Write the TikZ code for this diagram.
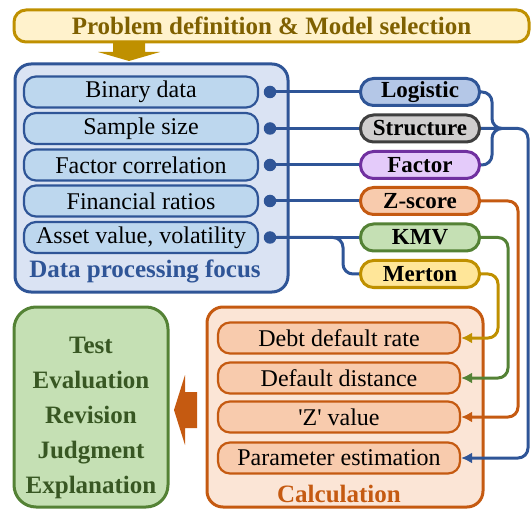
\documentclass[tikz,border=0pt]{standalone}
\usepackage{fontspec}
\setmainfont{Liberation Serif}
\usepackage{xcolor}
\usetikzlibrary{arrows.meta}
\definecolor{goldline}{HTML}{BF9000}
\definecolor{goldfill}{HTML}{FFF2CC}
\definecolor{goldtext}{HTML}{7F6000}
\definecolor{blueline}{HTML}{2F5597}
\definecolor{bluefill}{HTML}{DAE3F3}
\definecolor{bluein}{HTML}{BDD7EE}
\definecolor{logifill}{HTML}{B4C7E7}
\definecolor{grayline}{HTML}{3F3F3F}
\definecolor{grayfill}{HTML}{D0CECE}
\definecolor{purpline}{HTML}{7030A0}
\definecolor{purpfill}{HTML}{E4CBFA}
\definecolor{orline}{HTML}{C55A11}
\definecolor{orfill}{HTML}{F8CBAD}
\definecolor{orback}{HTML}{FBE5D6}
\definecolor{grline}{HTML}{548235}
\definecolor{grfill}{HTML}{C5E0B4}
\definecolor{grtext}{HTML}{385723}
\definecolor{merfill}{HTML}{FFE699}

\begin{document}
\begin{tikzpicture}[x=1pt, y=-1pt,
  bigbox/.style={draw, line width=3pt, rounded corners=16pt, inner sep=0pt},
  databox/.style={draw=blueline, fill=bluein, line width=2.2pt, rounded corners=12pt,
    minimum width=234pt, minimum height=31pt, inner sep=0pt, font=\fontsize{24}{26}\selectfont},
  calcbox/.style={draw=orline, fill=orfill, line width=2.2pt, rounded corners=12pt,
    minimum width=242pt, minimum height=31pt, inner sep=0pt, font=\fontsize{24}{26}\selectfont},
  model/.style={line width=3pt, rounded corners=13pt, minimum width=119pt,
    minimum height=27pt, inner sep=0pt, font=\bfseries\fontsize{23}{25}\selectfont},
  dot/.style={circle, fill=blueline, minimum size=12.5pt, inner sep=0pt},
  link/.style={line width=3pt, rounded corners=10pt},
  tip/.style={-{Latex[length=11pt,width=11pt]}},
  evaltext/.style={anchor=base, text=grtext, font=\bfseries\fontsize{25}{27}\selectfont}]
\useasboundingbox (0,0) rectangle (532,510);

% Boxes
\node[bigbox, draw=goldline, fill=goldfill, rounded corners=12pt, minimum width=515pt, minimum height=32pt,
  text=goldtext, font=\bfseries\fontsize{25}{27}\selectfont] (problem) at (271.5,26) {Problem definition \& Model selection};
\fill[goldline] (113,41) -- (145,41) -- (145,52) -- (160,52) -- (129,61) -- (98,52) -- (113,52) -- cycle;

\node[bigbox, draw=blueline, fill=bluefill, minimum width=273pt, minimum height=228pt] (focus) at (151.5,178) {};
\node[text=blueline, font=\bfseries\fontsize{25}{27}\selectfont] (focuslabel) at (145,271) {Data processing focus};

\node[bigbox, draw=grline, fill=grfill, rounded corners=22pt, minimum width=154pt, minimum height=200pt] (result) at (91,407) {};
\node[bigbox, draw=orline, fill=orback, minimum width=276pt, minimum height=200pt] (calc) at (345,407) {};
\node[text=orline, font=\bfseries\fontsize{25}{27}\selectfont] (calclabel) at (339,494) {Calculation};
\fill[orline] (197,392) -- (185,392) -- (185,375) -- (174,410) -- (185,445) -- (185,428) -- (197,428) -- cycle;

% Data
\node[databox] (binary) at (141,92) {Binary data};
\node[databox] (sample) at (141,128.5) {Sample size};
\node[databox] (corr) at (141,165) {Factor correlation};
\node[databox] (ratios) at (141,201) {Financial ratios};
\node[databox] (asset) at (141,237.5) {Asset value, volatility};

\node[dot] (d1) at (270,92) {};
\node[dot] (d2) at (270,128.5) {};
\node[dot] (d3) at (270,165) {};
\node[dot] (d4) at (270,201) {};
\node[dot] (d5) at (270,237.5) {};

% Models
\node[model, draw=blueline, fill=logifill] (logi) at (420,92) {Logistic};
\node[model, draw=grayline, fill=grayfill] (struc) at (420,128.5) {Structure};
\node[model, draw=purpline, fill=purpfill] (factor) at (420,165) {Factor};
\node[model, draw=orline, fill=orfill] (zscore) at (420,201) {Z-score};
\node[model, draw=grline, fill=grfill] (kmv) at (420,237.5) {KMV};
\node[model, draw=goldline, fill=merfill] (merton) at (420,274) {Merton};

% Calculation
\node[calcbox] (debt) at (339,338) {Debt default rate};
\node[calcbox] (dist) at (339,378) {Default distance};
\node[calcbox] (zval) at (339,417) {\textquotesingle Z\textquotesingle{} value};
\node[calcbox] (param) at (339,458) {Parameter estimation};

% Evaluation
\node[evaltext] (test) at (91,353) {Test};
\node[evaltext] (evalu) at (91,388) {Evaluation};
\node[evaltext] (revis) at (91,423) {Revision};
\node[evaltext] (judg) at (91,458) {Judgment};
\node[evaltext] (expl) at (91,493) {Explanation};

% Lines
\coordinate (join) at (502,128.5);
\coordinate (xblue) at (528,0);
\coordinate (xor) at (518,0);
\coordinate (xgr) at (508,0);
\coordinate (xgold) at (498,0);
\coordinate (fork) at (343,0);

\draw[link, draw=blueline] (d1) -- (logi);
\draw[link, draw=blueline] (d2) -- (struc);
\draw[link, draw=blueline] (d3) -- (factor);
\draw[link, draw=blueline] (d4) -- (zscore);
\draw[link, draw=blueline] (d5) -- (kmv);
\draw[link, draw=blueline] (d5) -| (fork |- merton.west) -- (merton.west);

\draw[link, draw=blueline] (logi.east) -| ([xshift=-10pt]join) -- (join);
\draw[link, draw=blueline] (factor.east) -| ([xshift=-10pt]join) -- (join);
\draw[link, draw=blueline, tip] (struc.east) -- (struc.east -| xblue) |- (param.east);
\draw[link, draw=orline, tip] (zscore.east) -- (zscore.east -| xor) |- (zval.east);
\draw[link, draw=grline, tip] (kmv.east) -- (kmv.east -| xgr) |- (dist.east);
\draw[link, draw=goldline, tip] (merton.east) -- (merton.east -| xgold) |- (debt.east);
\end{tikzpicture}
\end{document}
